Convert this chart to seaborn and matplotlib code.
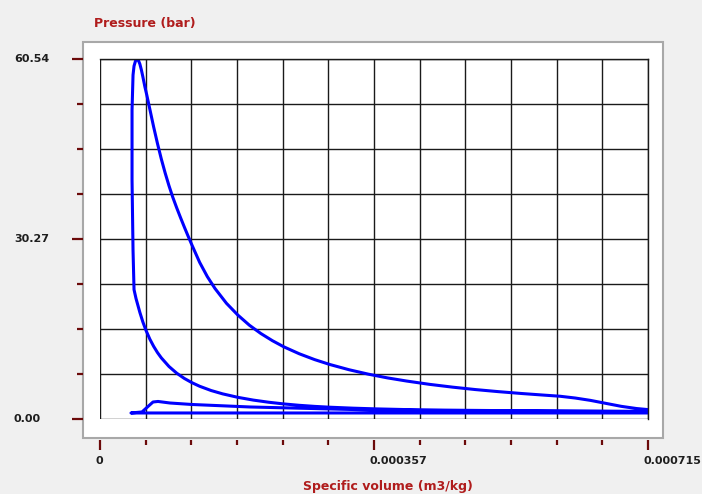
import matplotlib
matplotlib.use("Agg")
import matplotlib.pyplot as plt
import matplotlib.transforms as mtransforms
from matplotlib.patches import Rectangle
import numpy as np
import pandas as pd
import seaborn as sns

# ---------------- data (specific volume in 1e-6 m3/kg, pressure in bar) -------------
# compression stroke (BDC -> TDC)
comp_v = [715, 600, 520, 450, 400, 360, 330, 300, 280, 260, 240, 220, 200, 180,
          160, 145, 130, 120, 110, 100, 90, 80, 75, 70, 65, 60, 56, 52, 47, 44.4]
comp_p = [1.18, 1.26, 1.33, 1.41, 1.50, 1.62, 1.74, 1.90, 2.04, 2.22, 2.45, 2.74,
          3.10, 3.56, 4.15, 4.71, 5.43, 6.03, 6.75, 7.64, 8.76, 10.21, 11.10,
          12.15, 13.37, 14.84, 16.23, 17.87, 20.2, 21.7]
# combustion + expansion
exp_v = [43.1, 41.8, 41.8, 43.1, 44.4, 46.3, 48.3, 50, 52, 54, 56, 58.5, 61, 65,
         70, 75, 80, 85, 90, 95, 100, 105, 110, 115, 120, 130, 140, 150, 165, 180,
         195, 210, 225, 240, 260, 280, 300, 325, 350, 375, 400, 430, 460, 490,
         520, 550, 580, 600, 620, 640, 660, 680, 700, 715]
exp_p = [28.33, 40.14, 51.94, 57.84, 59.36, 60.20, 60.54, 60.35, 59.7, 58.7,
         57.5, 55.9, 54.5, 52.1, 49.1, 46.3, 43.7, 41.35, 39.2, 37.25, 35.5,
         33.85, 32.25, 30.7, 29.2, 26.3, 23.9, 21.9, 19.4, 17.4, 15.7, 14.3,
         13.1, 12.06, 10.9, 9.92, 9.09, 8.21, 7.47, 6.84, 6.31, 5.75, 5.28,
         4.87, 4.52, 4.21, 3.93, 3.75, 3.45, 3.05, 2.55, 2.05, 1.68, 1.5]
# exhaust + intake (gas exchange)
gas_v = [715, 40.4, 54.8, 62.6, 69.2, 75.7, 91.3, 120.0, 195.7, 356.2, 477.5, 715]
gas_p = [0.93, 0.93, 1.10, 2.02, 2.78, 2.87, 2.61, 2.36, 1.94, 1.43, 1.26, 1.18]

x_max = 0.000715
y_max = 60.54
x_labels = ["0", "0.000357", "0.000715"]
y_labels = ["0.00", "30.27", "60.54"]
x_title = "Specific volume (m3/kg)"
y_title = "Pressure (bar)"

vol = np.array(comp_v + exp_v + gas_v, dtype=float) * 1e-6
pres = np.array(comp_p + exp_p + gas_p, dtype=float)
df = pd.DataFrame({"v": vol, "p": pres})

# ---------------- figure ----------------
sns.set_style("white")
plt.rcParams["font.family"] = ["DejaVu Sans"]

W, H, DPI = 702, 494, 100
fig = plt.figure(figsize=(W / DPI, H / DPI), dpi=DPI, facecolor="#f0f0f0")

# white panel behind the plot
fig.patches.append(Rectangle((83 / W, 1 - 438 / H), 580 / W, 396 / H,
                             transform=fig.transFigure, facecolor="white",
                             edgecolor="#a8a8a8", lw=1.5, zorder=-10))

ax = fig.add_axes([100 / W, 1 - 418.5 / H, 548 / W, 359.5 / H])
ax.set_zorder(5)
ax.set_facecolor("white")

sns.lineplot(data=df, x="v", y="p", sort=False, estimator=None, ax=ax,
             color="#0000ff", lw=2.2, legend=False)

ax.set_xlim(0, x_max)
ax.set_ylim(0, y_max)

xmaj = [0, x_max / 2, x_max]
xmin = [x_max * k / 12 for k in range(1, 12) if k != 6]
ymaj = [0, y_max / 2, y_max]
ymin = [y_max * k / 8 for k in range(1, 8) if k != 4]
ax.set_xticks(xmaj)
ax.set_xticks(xmin, minor=True)
ax.set_yticks(ymaj)
ax.set_yticks(ymin, minor=True)
ax.set_xticklabels([])
ax.set_yticklabels([])
ax.grid(which="both", color="#1a1a1a", lw=1.0)
ax.set_axisbelow(True)

tick_c = "#6b0a0a"
ax.spines["bottom"].set_position(("outward", 15.8))
ax.spines["left"].set_position(("outward", 12.2))
for s in ["bottom", "left"]:
    ax.spines[s].set_color("none")
for s in ["top", "right"]:
    ax.spines[s].set_color("#1a1a1a")
    ax.spines[s].set_linewidth(1.0)
ax.tick_params(which="both", bottom=True, left=True, top=False, right=False)
ax.tick_params(axis="x", which="major", direction="out", length=7.2, width=1.6, color=tick_c)
ax.tick_params(axis="x", which="minor", direction="out", length=3.6, width=1.6, color=tick_c)
ax.tick_params(axis="y", which="major", direction="out", length=7.9, width=1.6, color=tick_c)
ax.tick_params(axis="y", which="minor", direction="out", length=4.3, width=1.6, color=tick_c)

lab_c = "#1e1e1e"
# x tick labels (left aligned, just left of tick)
xt = mtransforms.blended_transform_factory(ax.transData, fig.transFigure)
off = mtransforms.ScaledTranslation(-5 / DPI, 0, fig.dpi_scale_trans)
for val, lab in zip(xmaj, x_labels):
    ax.text(val, 1 - 461 / H, lab, transform=xt + off,
            ha="left", va="center", fontsize=8, fontweight="bold", color=lab_c, clip_on=False)
# y tick labels (left aligned at fixed x)
yt = mtransforms.blended_transform_factory(fig.transFigure, ax.transData)
for val, lab in zip(ymaj, y_labels):
    ax.text(14 / W, val, lab, transform=yt, ha="left", va="center",
            fontsize=8, fontweight="bold", color=lab_c, clip_on=False)

title_c = "#b01c1c"
fig.text(94 / W, 1 - 24 / H, y_title, ha="left", va="center", fontsize=9,
         fontweight="bold", color=title_c)
fig.text(388 / W, 1 - 486 / H, x_title, ha="center", va="center", fontsize=9,
         fontweight="bold", color=title_c)

ax.set_xlabel("")
ax.set_ylabel("")

fig.savefig("out.png", dpi=DPI, facecolor=fig.get_facecolor())
